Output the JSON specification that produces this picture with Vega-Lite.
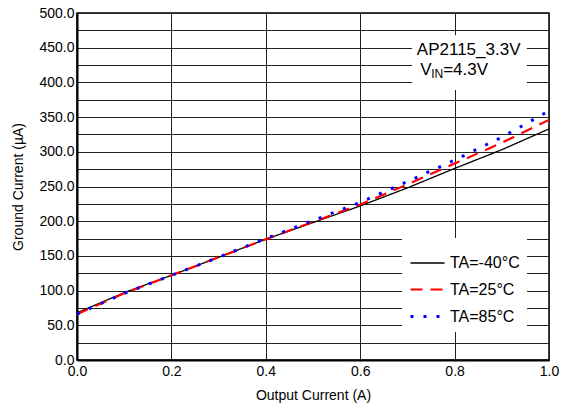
{
  "$schema": "https://vega.github.io/schema/vega-lite/v6.json",
  "width": 472,
  "height": 347,
  "autosize": {"type": "none"},
  "padding": {"left": 77, "top": 13, "right": 17, "bottom": 49},
  "background": "white",
  "config": {
    "font": "Liberation Sans",
    "view": {"stroke": "#000000", "strokeWidth": 1.5},
    "axis": {
      "grid": true,
      "gridColor": "#222222",
      "gridWidth": 1,
      "ticks": false,
      "domainColor": "#000000",
      "domainWidth": 2,
      "labelColor": "#000000",
      "labelFontSize": 14,
      "labelFont": "Liberation Sans",
      "labelFlush": false,
      "labelOverlap": false,
      "titleColor": "#000000",
      "titleFontSize": 14,
      "titleFontWeight": "normal",
      "titleFont": "Liberation Sans"
    },
    "legend": {
      "title": null,
      "orient": "none",
      "legendX": 325,
      "legendY": 225,
      "fillColor": "white",
      "padding": 7,
      "symbolType": "stroke",
      "symbolSize": 1156,
      "labelFontSize": 16,
      "labelFont": "Liberation Sans",
      "labelColor": "#000000",
      "labelOffset": 4,
      "rowPadding": -2
    }
  },
  "datasets": {
    "curves": [
      {"x": 0.0, "y": 68, "series": "TA=-40°C"},
      {"x": 0.1, "y": 97, "series": "TA=-40°C"},
      {"x": 0.2, "y": 122, "series": "TA=-40°C"},
      {"x": 0.3, "y": 148, "series": "TA=-40°C"},
      {"x": 0.4, "y": 174, "series": "TA=-40°C"},
      {"x": 0.5, "y": 198, "series": "TA=-40°C"},
      {"x": 0.6, "y": 222, "series": "TA=-40°C"},
      {"x": 0.7, "y": 248, "series": "TA=-40°C"},
      {"x": 0.8, "y": 276, "series": "TA=-40°C"},
      {"x": 0.9, "y": 303, "series": "TA=-40°C"},
      {"x": 1.0, "y": 333, "series": "TA=-40°C"},
      {"x": 0.0, "y": 66, "series": "TA=25°C"},
      {"x": 0.1, "y": 96, "series": "TA=25°C"},
      {"x": 0.2, "y": 122, "series": "TA=25°C"},
      {"x": 0.3, "y": 148, "series": "TA=25°C"},
      {"x": 0.4, "y": 174, "series": "TA=25°C"},
      {"x": 0.5, "y": 199, "series": "TA=25°C"},
      {"x": 0.6, "y": 224, "series": "TA=25°C"},
      {"x": 0.7, "y": 253, "series": "TA=25°C"},
      {"x": 0.8, "y": 283, "series": "TA=25°C"},
      {"x": 0.9, "y": 313, "series": "TA=25°C"},
      {"x": 1.0, "y": 346, "series": "TA=25°C"},
      {"x": 0.0, "y": 66, "series": "TA=85°C"},
      {"x": 0.1, "y": 96, "series": "TA=85°C"},
      {"x": 0.2, "y": 122, "series": "TA=85°C"},
      {"x": 0.3, "y": 148, "series": "TA=85°C"},
      {"x": 0.4, "y": 175, "series": "TA=85°C"},
      {"x": 0.5, "y": 201, "series": "TA=85°C"},
      {"x": 0.6, "y": 227, "series": "TA=85°C"},
      {"x": 0.7, "y": 257, "series": "TA=85°C"},
      {"x": 0.8, "y": 288, "series": "TA=85°C"},
      {"x": 0.9, "y": 321, "series": "TA=85°C"},
      {"x": 1.0, "y": 359, "series": "TA=85°C"}
    ],
    "one": [{}]
  },
  "layer": [
    {
      "data": {"name": "curves"},
      "mark": {"type": "line", "clip": true},
      "encoding": {
        "x": {
          "field": "x", "type": "quantitative",
          "scale": {"domain": [0, 1], "nice": false},
          "axis": {"values": [0, 0.2, 0.4, 0.6, 0.8, 1.0], "format": ".1f", "title": "Output Current (A)", "labelPadding": 4, "titlePadding": 10}
        },
        "y": {
          "field": "y", "type": "quantitative",
          "scale": {"domain": [0, 500], "nice": false},
          "axis": {
            "values": [0, 25, 50, 75, 100, 125, 150, 175, 200, 225, 250, 275, 300, 325, 350, 375, 400, 425, 450, 475, 500],
            "labelExpr": "datum.value % 50 === 0 ? format(datum.value, '.1f') : ''",
            "title": "Ground Current (µA)",
            "labelPadding": 3,
            "titlePadding": 13
          }
        },
        "color": {
          "field": "series", "type": "nominal",
          "scale": {"domain": ["TA=-40°C", "TA=25°C", "TA=85°C"], "range": ["#000000", "#ff0000", "#0000ff"]},
          "legend": {"title": null}
        },
        "strokeDash": {
          "field": "series", "type": "nominal",
          "scale": {"domain": ["TA=-40°C", "TA=25°C", "TA=85°C"], "range": [[1, 0], [12, 8], [3, 10]]},
          "legend": {"title": null}
        },
        "strokeWidth": {
          "field": "series", "type": "nominal",
          "scale": {"domain": ["TA=-40°C", "TA=25°C", "TA=85°C"], "range": [1.3, 3, 3]},
          "legend": {"title": null}
        }
      }
    },
    {
      "data": {"name": "one"},
      "mark": {"type": "rect", "fill": "white"},
      "encoding": {
        "x": {"datum": 0.71, "type": "quantitative", "axis": {"values": [0, 0.2, 0.4, 0.6, 0.8, 1.0], "format": ".1f", "title": "Output Current (A)", "labelPadding": 4, "titlePadding": 10}},
        "x2": {"datum": 0.953},
        "y": {"datum": 389, "type": "quantitative", "axis": {
            "values": [0, 25, 50, 75, 100, 125, 150, 175, 200, 225, 250, 275, 300, 325, 350, 375, 400, 425, 450, 475, 500],
            "labelExpr": "datum.value % 50 === 0 ? format(datum.value, '.1f') : ''",
            "title": "Ground Current (µA)",
            "labelPadding": 3,
            "titlePadding": 13
          }},
        "y2": {"datum": 468}
      }
    },
    {
      "data": {"name": "one"},
      "mark": {"type": "text", "text": "AP2115_3.3V", "align": "left", "baseline": "alphabetic", "fontSize": 17, "fontWeight": "normal", "font": "Liberation Sans", "color": "#000000"},
      "encoding": {
        "x": {"datum": 0.72, "type": "quantitative", "axis": {"values": [0, 0.2, 0.4, 0.6, 0.8, 1.0], "format": ".1f", "title": "Output Current (A)", "labelPadding": 4, "titlePadding": 10}},
        "y": {"datum": 439.5, "type": "quantitative", "axis": {
            "values": [0, 25, 50, 75, 100, 125, 150, 175, 200, 225, 250, 275, 300, 325, 350, 375, 400, 425, 450, 475, 500],
            "labelExpr": "datum.value % 50 === 0 ? format(datum.value, '.1f') : ''",
            "title": "Ground Current (µA)",
            "labelPadding": 3,
            "titlePadding": 13
          }}
      }
    },
    {
      "data": {"name": "one"},
      "mark": {"type": "text", "text": "V", "align": "left", "baseline": "alphabetic", "fontSize": 17, "fontWeight": "normal", "font": "Liberation Sans", "color": "#000000"},
      "encoding": {
        "x": {"datum": 0.727, "type": "quantitative", "axis": {"values": [0, 0.2, 0.4, 0.6, 0.8, 1.0], "format": ".1f", "title": "Output Current (A)", "labelPadding": 4, "titlePadding": 10}},
        "y": {"datum": 410.5, "type": "quantitative", "axis": {
            "values": [0, 25, 50, 75, 100, 125, 150, 175, 200, 225, 250, 275, 300, 325, 350, 375, 400, 425, 450, 475, 500],
            "labelExpr": "datum.value % 50 === 0 ? format(datum.value, '.1f') : ''",
            "title": "Ground Current (µA)",
            "labelPadding": 3,
            "titlePadding": 13
          }}
      }
    },
    {
      "data": {"name": "one"},
      "mark": {"type": "text", "text": "IN", "align": "left", "baseline": "alphabetic", "fontSize": 12, "fontWeight": "normal", "font": "Liberation Sans", "color": "#000000", "dx": 11, "dy": 3},
      "encoding": {
        "x": {"datum": 0.727, "type": "quantitative", "axis": {"values": [0, 0.2, 0.4, 0.6, 0.8, 1.0], "format": ".1f", "title": "Output Current (A)", "labelPadding": 4, "titlePadding": 10}},
        "y": {"datum": 410.5, "type": "quantitative", "axis": {
            "values": [0, 25, 50, 75, 100, 125, 150, 175, 200, 225, 250, 275, 300, 325, 350, 375, 400, 425, 450, 475, 500],
            "labelExpr": "datum.value % 50 === 0 ? format(datum.value, '.1f') : ''",
            "title": "Ground Current (µA)",
            "labelPadding": 3,
            "titlePadding": 13
          }}
      }
    },
    {
      "data": {"name": "one"},
      "mark": {"type": "text", "text": "=4.3V", "align": "left", "baseline": "alphabetic", "fontSize": 17, "fontWeight": "normal", "font": "Liberation Sans", "color": "#000000", "dx": 23},
      "encoding": {
        "x": {"datum": 0.727, "type": "quantitative", "axis": {"values": [0, 0.2, 0.4, 0.6, 0.8, 1.0], "format": ".1f", "title": "Output Current (A)", "labelPadding": 4, "titlePadding": 10}},
        "y": {"datum": 410.5, "type": "quantitative", "axis": {
            "values": [0, 25, 50, 75, 100, 125, 150, 175, 200, 225, 250, 275, 300, 325, 350, 375, 400, 425, 450, 475, 500],
            "labelExpr": "datum.value % 50 === 0 ? format(datum.value, '.1f') : ''",
            "title": "Ground Current (µA)",
            "labelPadding": 3,
            "titlePadding": 13
          }}
      }
    }
  ]
}
